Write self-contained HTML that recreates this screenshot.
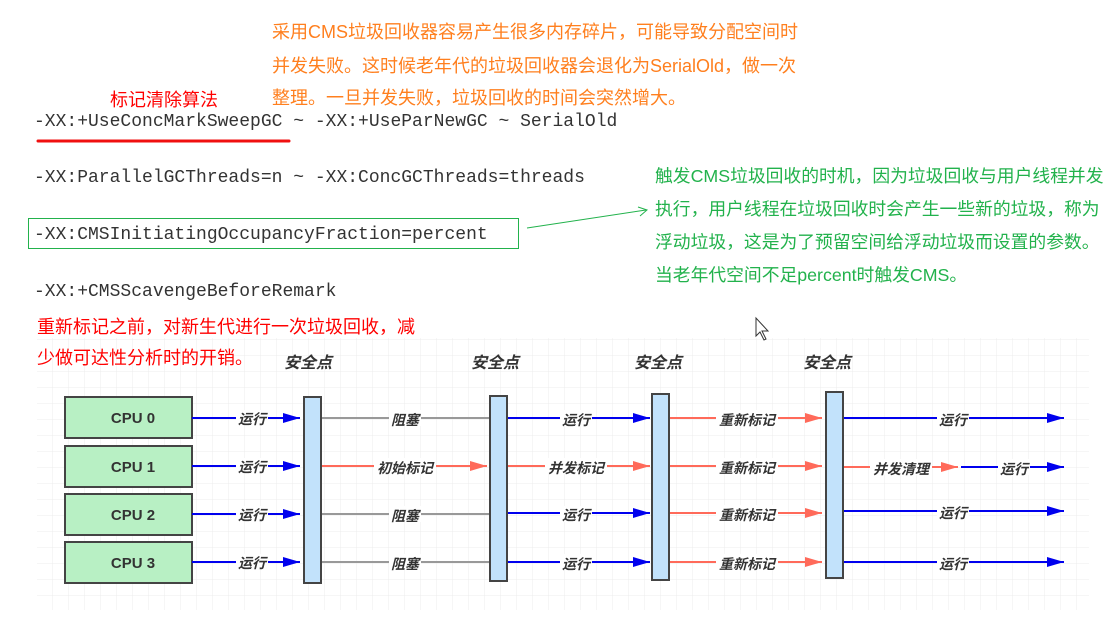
<!DOCTYPE html>
<html><head><meta charset="utf-8"><style>
html,body{margin:0;padding:0;background:#fff;width:1116px;height:618px;overflow:hidden}
svg{display:block}
.cj{font-family:"Liberation Sans","Noto Sans CJK SC",sans-serif}
.mono{font-family:"Liberation Mono",monospace;font-size:18px;fill:#333}
.lbl{font-family:"Liberation Sans","Noto Sans CJK SC",sans-serif;font-size:14px;font-weight:bold;font-style:italic;fill:#333}
</style></head><body>
<svg width="1116" height="618" viewBox="0 0 1116 618" xmlns="http://www.w3.org/2000/svg">
<defs>
<pattern id="g" width="16" height="16" patternUnits="userSpaceOnUse" x="37" y="340">
<path d="M16 0V16M0 16H16" stroke="#ececec" stroke-width="1" fill="none"/>
</pattern>
<marker id="ab2" markerWidth="18" markerHeight="10" refX="17" refY="5" orient="auto" markerUnits="userSpaceOnUse"><path d="M0,0L17,5L0,10z" fill="#0000ee"/></marker>
<marker id="ar" markerWidth="18" markerHeight="10" refX="17" refY="5" orient="auto" markerUnits="userSpaceOnUse"><path d="M0,0L17,5L0,10z" fill="#ff6a5a"/></marker>
</defs>
<rect x="37" y="338" width="1052" height="272" fill="url(#g)"/>

<g class="cj" font-size="18" fill="#ff7f1e">
<text x="272" y="38">采用CMS垃圾回收器容易产生很多内存碎片，可能导致分配空间时</text>
<text x="272" y="72">并发失败。这时候老年代的垃圾回收器会退化为SerialOld，做一次</text>
<text x="272" y="104">整理。一旦并发失败，垃圾回收的时间会突然增大。</text>
</g>
<text class="cj" x="110" y="106" font-size="18" fill="#f00">标记清除算法</text>
<text class="mono" x="34" y="126">-XX:+UseConcMarkSweepGC ~ -XX:+UseParNewGC ~ SerialOld</text>
<line x1="38" y1="141" x2="289" y2="141" stroke="#f01010" stroke-width="3" stroke-linecap="round"/>
<text class="mono" x="34" y="182">-XX:ParallelGCThreads=n ~ -XX:ConcGCThreads=threads</text>
<rect x="28.5" y="218.5" width="490" height="30" fill="none" stroke="#22b24c" stroke-width="1"/>
<text class="mono" x="34" y="239">-XX:CMSInitiatingOccupancyFraction=percent</text>
<line x1="527" y1="228" x2="646" y2="210" stroke="#22b24c" stroke-width="1"/>
<path d="M638,207L647,210L640,216" fill="none" stroke="#22b24c" stroke-width="1"/>
<text class="mono" x="34" y="296">-XX:+CMSScavengeBeforeRemark</text>
<g class="cj" font-size="17.8" fill="#22b24c">
<text x="655" y="182">触发CMS垃圾回收的时机，因为垃圾回收与用户线程并发</text>
<text x="655" y="215">执行，用户线程在垃圾回收时会产生一些新的垃圾，称为</text>
<text x="655" y="248">浮动垃圾，这是为了预留空间给浮动垃圾而设置的参数。</text>
<text x="655" y="281">当老年代空间不足percent时触发CMS。</text>
</g>
<g class="cj" font-size="18" fill="#f00">
<text x="37" y="333">重新标记之前，对新生代进行一次垃圾回收，减</text>
<text x="37" y="364">少做可达性分析时的开销。</text>
</g>
<path d="M756,318L756,336L760,332L764,340L766,339L762,331L768,331Z" fill="#fff" stroke="#333" stroke-width="1"/>

<g class="lbl">
<text x="284" y="368" font-size="16">安全点</text>
<text x="471" y="368" font-size="16">安全点</text>
<text x="634" y="368" font-size="16">安全点</text>
<text x="803" y="368" font-size="16">安全点</text>
</g>

<g fill="#b8f0c4" stroke="#444" stroke-width="2">
<rect x="65" y="397" width="127" height="41"/>
<rect x="65" y="446" width="127" height="41"/>
<rect x="65" y="494" width="127" height="41"/>
<rect x="65" y="542" width="127" height="41"/>
</g>
<g font-family="Liberation Sans,sans-serif" font-size="15" font-weight="bold" fill="#333" text-anchor="middle">
<text x="133" y="423">CPU 0</text><text x="133" y="472">CPU 1</text><text x="133" y="520">CPU 2</text><text x="133" y="568">CPU 3</text>
</g>

<g stroke-width="2" fill="none">
<line x1="192" y1="418" x2="300" y2="418" stroke="#0000ee" marker-end="url(#ab2)"/>
<line x1="192" y1="466" x2="300" y2="466" stroke="#0000ee" marker-end="url(#ab2)"/>
<line x1="192" y1="514" x2="300" y2="514" stroke="#0000ee" marker-end="url(#ab2)"/>
<line x1="192" y1="562" x2="300" y2="562" stroke="#0000ee" marker-end="url(#ab2)"/>
<line x1="321" y1="418" x2="489" y2="418" stroke="#999"/>
<line x1="321" y1="466" x2="487" y2="466" stroke="#ff6a5a" marker-end="url(#ar)"/>
<line x1="321" y1="514" x2="489" y2="514" stroke="#999"/>
<line x1="321" y1="562" x2="489" y2="562" stroke="#999"/>
<line x1="507" y1="418" x2="650" y2="418" stroke="#0000ee" marker-end="url(#ab2)"/>
<line x1="507" y1="466" x2="650" y2="466" stroke="#ff6a5a" marker-end="url(#ar)"/>
<line x1="507" y1="513" x2="650" y2="513" stroke="#0000ee" marker-end="url(#ab2)"/>
<line x1="507" y1="562" x2="650" y2="562" stroke="#0000ee" marker-end="url(#ab2)"/>
<line x1="670" y1="418" x2="822" y2="418" stroke="#ff6a5a" marker-end="url(#ar)"/>
<line x1="670" y1="466" x2="822" y2="466" stroke="#ff6a5a" marker-end="url(#ar)"/>
<line x1="670" y1="513" x2="822" y2="513" stroke="#ff6a5a" marker-end="url(#ar)"/>
<line x1="670" y1="562" x2="822" y2="562" stroke="#ff6a5a" marker-end="url(#ar)"/>
<line x1="844" y1="418" x2="1064" y2="418" stroke="#0000ee" marker-end="url(#ab2)"/>
<line x1="844" y1="467" x2="958" y2="467" stroke="#ff6a5a" marker-end="url(#ar)"/>
<line x1="961" y1="467" x2="1064" y2="467" stroke="#0000ee" marker-end="url(#ab2)"/>
<line x1="844" y1="511" x2="1064" y2="511" stroke="#0000ee" marker-end="url(#ab2)"/>
<line x1="844" y1="562" x2="1064" y2="562" stroke="#0000ee" marker-end="url(#ab2)"/>
</g>

<g fill="#c2e2fb" stroke="#444" stroke-width="2">
<rect x="304" y="397" width="17" height="186"/>
<rect x="490" y="396" width="17" height="185"/>
<rect x="652" y="394" width="17" height="186"/>
<rect x="826" y="392" width="17" height="186"/>
</g>

<g class="lbl" text-anchor="middle" font-size="13.5">
<g><rect x="236" y="410" width="32" height="16" fill="#fff"/><text x="252" y="424">运行</text></g>
<g><rect x="236" y="458" width="32" height="16" fill="#fff"/><text x="252" y="472">运行</text></g>
<g><rect x="236" y="506" width="32" height="16" fill="#fff"/><text x="252" y="520">运行</text></g>
<g><rect x="236" y="554" width="32" height="16" fill="#fff"/><text x="252" y="568">运行</text></g>

<g><rect x="389" y="410" width="32" height="16" fill="#fff"/><text x="405" y="425">阻塞</text></g>
<g><rect x="374" y="458" width="62" height="16" fill="#fff"/><text x="405" y="473">初始标记</text></g>
<g><rect x="389" y="506" width="32" height="16" fill="#fff"/><text x="405" y="521">阻塞</text></g>
<g><rect x="389" y="554" width="32" height="16" fill="#fff"/><text x="405" y="569">阻塞</text></g>

<g><rect x="560" y="410" width="32" height="16" fill="#fff"/><text x="576" y="425">运行</text></g>
<g><rect x="545" y="458" width="62" height="16" fill="#fff"/><text x="576" y="473">并发标记</text></g>
<g><rect x="560" y="506" width="32" height="16" fill="#fff"/><text x="576" y="520">运行</text></g>
<g><rect x="560" y="554" width="32" height="16" fill="#fff"/><text x="576" y="569">运行</text></g>

<g><rect x="716" y="410" width="62" height="16" fill="#fff"/><text x="747" y="425">重新标记</text></g>
<g><rect x="716" y="458" width="62" height="16" fill="#fff"/><text x="747" y="473">重新标记</text></g>
<g><rect x="716" y="505" width="62" height="16" fill="#fff"/><text x="747" y="520">重新标记</text></g>
<g><rect x="716" y="554" width="62" height="16" fill="#fff"/><text x="747" y="569">重新标记</text></g>

<g><rect x="937" y="410" width="32" height="16" fill="#fff"/><text x="953" y="425">运行</text></g>
<g><rect x="870" y="459" width="62" height="16" fill="#fff"/><text x="901" y="474">并发清理</text></g>
<g><rect x="998" y="459" width="32" height="16" fill="#fff"/><text x="1014" y="474">运行</text></g>
<g><rect x="937" y="503" width="32" height="16" fill="#fff"/><text x="953" y="518">运行</text></g>
<g><rect x="937" y="554" width="32" height="16" fill="#fff"/><text x="953" y="569">运行</text></g>
</g>
</svg>
</body></html>
